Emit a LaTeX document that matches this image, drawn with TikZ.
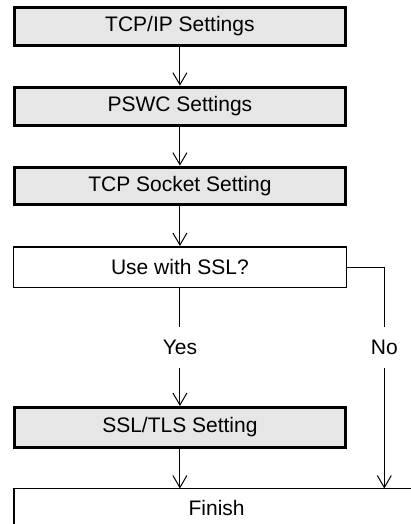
\documentclass[tikz,border=0pt]{standalone}
\usepackage{fontspec}
\setmainfont{Liberation Sans}
\usetikzlibrary{arrows.meta}
\definecolor{boxgray}{HTML}{E6E6E6}
\begin{document}
\begin{tikzpicture}[x=1pt,y=-1pt,
  every node/.style={font=\fontsize{21}{25}\selectfont},
  gbox/.style={draw, line width=3pt, fill=boxgray, minimum width=331.8pt, inner sep=0pt},
  wbox/.style={draw, line width=1.5pt, fill=white, inner sep=0pt},
  lbl/.style={inner sep=0pt, minimum height=40.6pt},
  conn/.style={line width=1pt, -{Straight Barb[length=12pt,width=14pt,line width=1pt]}},
  plain/.style={line width=1pt}]
\useasboundingbox (0,0) rectangle (411,524);
\clip (0,0) rectangle (411,524);
\node[gbox, minimum height=38pt] (n1) at (179.9,26.2) {TCP/IP Settings};
\node[gbox, minimum height=38.6pt] (n2) at (179.9,106.5) {PSWC Settings};
\node[gbox, minimum height=37.5pt] (n3) at (179.9,185.9) {TCP Socket Setting};
\node[wbox, minimum width=332.8pt, minimum height=40.5pt] (ssl) at (179.9,267) {Use with SSL?};
\node[lbl] (yes) at (179.9,347) {Yes};
\node[lbl] (no) at (384.3,347) {No};
\node[gbox, minimum height=40pt] (tls) at (179.9,427.5) {SSL/TLS Setting};
\node[wbox, outer sep=0pt, anchor=north west, minimum width=404.8pt, text height=27.2pt, text depth=30pt] (finish) at (14.2,488.5) {Finish};
\draw[conn] (n1) -- (n2);
\draw[conn] (n2) -- (n3);
\draw[conn] (n3) -- (ssl);
\draw[plain] (ssl) -- (yes);
\draw[conn] (yes) -- (tls);
\draw[conn] (tls) -- (tls |- finish.north);
\draw[plain] (ssl.east) -| (no.north);
\draw[conn] (no.south) -- (no.south |- finish.north);
\end{tikzpicture}
\end{document}
